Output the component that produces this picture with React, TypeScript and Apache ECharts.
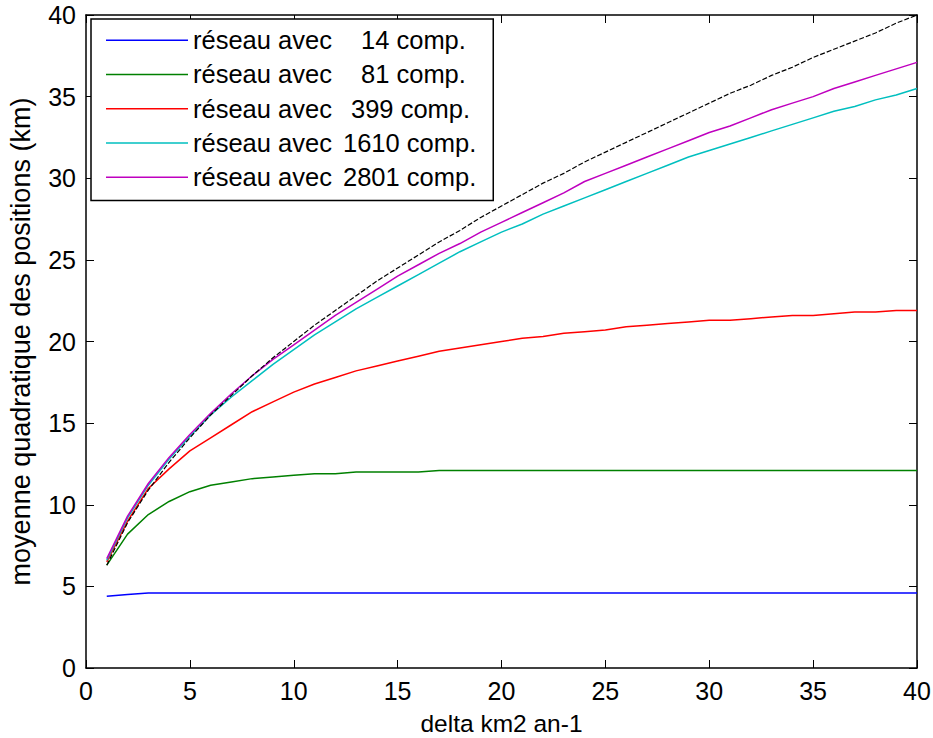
import React, { useEffect, useRef } from "react";
import * as echarts from "echarts";

const xs = [1, 2, 3, 4, 5, 6, 7, 8, 9, 10, 11, 12, 13, 14, 15, 16, 17, 18, 19, 20, 21, 22, 23, 24, 25, 26, 27, 28, 29, 30, 31, 32, 33, 34, 35, 36, 37, 38, 39, 40];

const comp14 = [4.4, 4.5, 4.6, 4.6, 4.6, 4.6, 4.6, 4.6, 4.6, 4.6, 4.6, 4.6, 4.6, 4.6, 4.6, 4.6, 4.6, 4.6, 4.6, 4.6, 4.6, 4.6, 4.6, 4.6, 4.6, 4.6, 4.6, 4.6, 4.6, 4.6, 4.6, 4.6, 4.6, 4.6, 4.6, 4.6, 4.6, 4.6, 4.6, 4.6];
const comp81 = [6.3, 8.2, 9.4, 10.2, 10.8, 11.2, 11.4, 11.6, 11.7, 11.8, 11.9, 11.9, 12.0, 12.0, 12.0, 12.0, 12.1, 12.1, 12.1, 12.1, 12.1, 12.1, 12.1, 12.1, 12.1, 12.1, 12.1, 12.1, 12.1, 12.1, 12.1, 12.1, 12.1, 12.1, 12.1, 12.1, 12.1, 12.1, 12.1, 12.1];
const comp399 = [6.5, 9.0, 11.0, 12.2, 13.3, 14.1, 14.9, 15.7, 16.3, 16.9, 17.4, 17.8, 18.2, 18.5, 18.8, 19.1, 19.4, 19.6, 19.8, 20.0, 20.2, 20.3, 20.5, 20.6, 20.7, 20.9, 21.0, 21.1, 21.2, 21.3, 21.3, 21.4, 21.5, 21.6, 21.6, 21.7, 21.8, 21.8, 21.9, 21.9];
const comp1610 = [6.6, 9.2, 11.2, 12.8, 14.2, 15.5, 16.6, 17.6, 18.6, 19.5, 20.4, 21.2, 22.0, 22.7, 23.4, 24.1, 24.8, 25.5, 26.1, 26.7, 27.2, 27.8, 28.3, 28.8, 29.3, 29.8, 30.3, 30.8, 31.3, 31.7, 32.1, 32.5, 32.9, 33.3, 33.7, 34.1, 34.4, 34.8, 35.1, 35.5];
const comp2801 = [6.7, 9.3, 11.3, 12.9, 14.3, 15.6, 16.8, 17.9, 18.9, 19.8, 20.7, 21.6, 22.4, 23.2, 24.0, 24.7, 25.4, 26.0, 26.7, 27.3, 27.9, 28.5, 29.1, 29.8, 30.3, 30.8, 31.3, 31.8, 32.3, 32.8, 33.2, 33.7, 34.2, 34.6, 35.0, 35.5, 35.9, 36.3, 36.7, 37.1];
const reference = [6.3, 8.9, 10.9, 12.6, 14.1, 15.5, 16.7, 17.9, 19.0, 20.0, 21.0, 21.9, 22.8, 23.7, 24.5, 25.3, 26.1, 26.8, 27.6, 28.3, 29.0, 29.7, 30.3, 31.0, 31.6, 32.2, 32.8, 33.4, 34.0, 34.6, 35.2, 35.7, 36.3, 36.8, 37.4, 37.9, 38.4, 38.9, 39.5, 40.0];

const compCounts = ["14", "81", "399", "1610", "2801"];
const seriesNames = compCounts.map((n) => `réseau avec ${n} comp.`);
const seriesValues = [comp14, comp81, comp399, comp1610, comp2801];
const seriesColors = ["#0000FF", "#008000", "#FF0000", "#00BFBF", "#BF00BF"];

const xTicks = { min: 0, max: 40, interval: 5 };
const yTicks = { min: 0, max: 40, interval: 5 };
const xTitle = "delta km2 an-1";
const yTitle = "moyenne quadratique des positions (km)";

const FONT = "'Liberation Sans', Arial, Helvetica, sans-serif";

export default function App() {
  const ref = useRef<HTMLDivElement>(null);
  useEffect(() => {
    if (!ref.current) return;
    const chart = echarts.init(ref.current, null, { renderer: "svg" });
    const pair = (vals: number[]) => xs.map((x, i) => [x, vals[i]]);
    const axisCommon = {
      type: "value" as const,
      splitLine: { show: false },
      axisLine: { show: true, onZero: false, lineStyle: { color: "#000", width: 1.5 } },
      axisTick: { show: true, inside: true, length: 8, lineStyle: { color: "#000", width: 1 } },
    };
    const numStyle = (padLeft: number) => ({
      fontSize: 25.5,
      color: "#000",
      lineHeight: 34,
      fontFamily: FONT,
      padding: [0, 0, 0, padLeft],
    });
    chart.setOption({
      animation: false,
      backgroundColor: "#fff",
      textStyle: { fontFamily: FONT },
      grid: {
        left: 86,
        right: 16,
        top: 15,
        bottom: 70,
        containLabel: false,
        outerBoundsMode: "none",
      },
      xAxis: [
        {
          ...axisCommon,
          position: "bottom",
          ...xTicks,
          name: xTitle,
          nameLocation: "middle",
          nameGap: 45,
          nameTextStyle: { fontSize: 24.5, lineHeight: 20, color: "#000", fontFamily: FONT },
          axisLabel: { fontSize: 25, color: "#000", margin: 10, fontFamily: FONT },
        },
        {
          ...axisCommon,
          position: "top",
          ...xTicks,
          axisLabel: { show: false },
        },
      ],
      yAxis: [
        {
          ...axisCommon,
          position: "left",
          ...yTicks,
          name: yTitle,
          nameLocation: "middle",
          nameGap: 52,
          nameTextStyle: { fontSize: 27, color: "#000", fontFamily: FONT },
          axisLabel: { fontSize: 25, color: "#000", margin: 10, fontFamily: FONT },
        },
        {
          ...axisCommon,
          position: "right",
          ...yTicks,
          axisLabel: { show: false },
        },
      ],
      legend: {
        show: true,
        orient: "vertical",
        left: 91,
        top: 19,
        padding: [4, 17, 6, 15],
        itemGap: 0,
        itemWidth: 82,
        itemHeight: 1.5,
        icon: "rect",
        backgroundColor: "#fff",
        borderColor: "#000",
        borderWidth: 1.5,
        borderRadius: 0,
        data: seriesNames,
        formatter: (name: string) => {
          const idx = seriesNames.indexOf(name);
          const n = compCounts[idx];
          return `réseau avec {d${n.length}|${n}} comp.`;
        },
        textStyle: {
          fontSize: 25.5,
          color: "#000",
          lineHeight: 34.3,
          fontFamily: FONT,
          rich: {
            d2: numStyle(22),
            d3: numStyle(12),
            d4: numStyle(4),
          },
        },
      },
      series: [
        ...seriesNames.map((name, i) => ({
          name,
          type: "line",
          xAxisIndex: 0,
          yAxisIndex: 0,
          data: pair(seriesValues[i]),
          symbol: "none",
          showSymbol: false,
          lineStyle: { color: seriesColors[i], width: 1.5 },
          itemStyle: { color: seriesColors[i] },
          z: 2,
        })),
        {
          name: "référence",
          type: "line",
          xAxisIndex: 0,
          yAxisIndex: 0,
          data: pair(reference),
          symbol: "none",
          showSymbol: false,
          lineStyle: { color: "#000", width: 1.2, type: [5, 2] },
          itemStyle: { color: "#000" },
          z: 3,
        },
      ],
    });
    return () => chart.dispose();
  }, []);
  return (
    <div
      ref={ref}
      style={{ position: "fixed", left: 0, top: 0, width: 933, height: 738 }}
    />
  );
}
